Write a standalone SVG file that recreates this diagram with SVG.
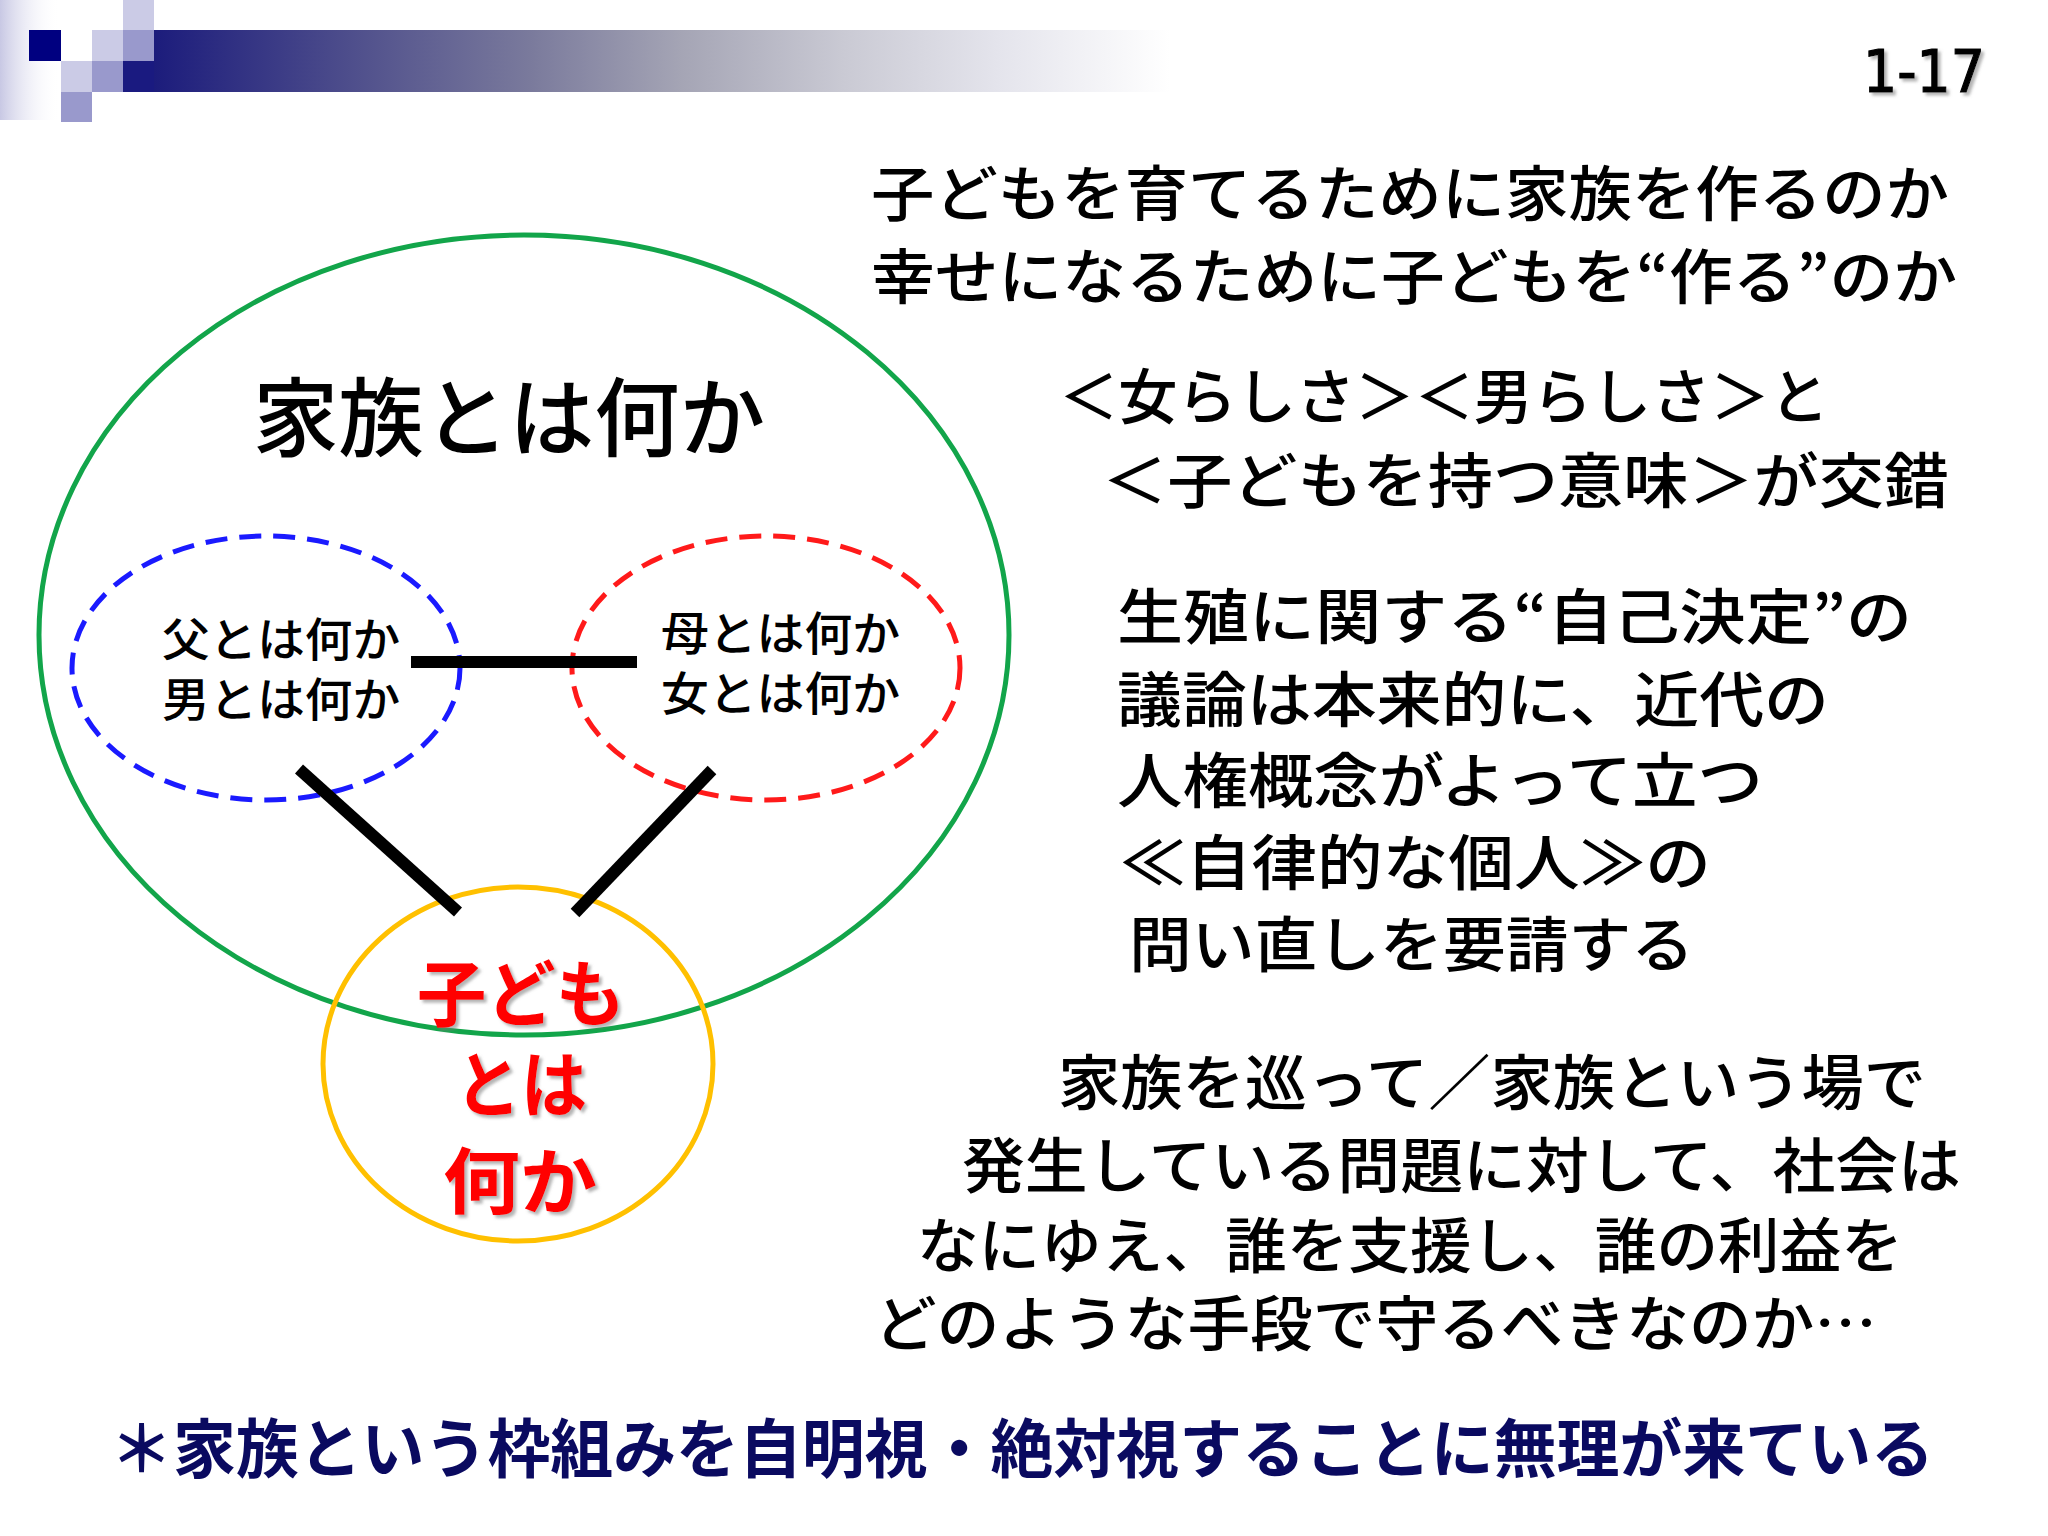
<svg xmlns="http://www.w3.org/2000/svg" width="2048" height="1536" viewBox="0 0 2048 1536">
<defs>
<linearGradient id="bar" gradientUnits="userSpaceOnUse" x1="154" y1="0" x2="1170" y2="0">
<stop offset="0" stop-color="#1c1c7c"/>
<stop offset="0.22" stop-color="#55558e"/>
<stop offset="0.37" stop-color="#7a7a9c"/>
<stop offset="0.52" stop-color="#a5a5b5"/>
<stop offset="0.68" stop-color="#cacad4"/>
<stop offset="0.83" stop-color="#e4e4ec"/>
<stop offset="1" stop-color="#ffffff"/>
</linearGradient>
<linearGradient id="strip" x1="0" y1="0" x2="1" y2="0">
<stop offset="0" stop-color="#c8c8e4"/>
<stop offset="1" stop-color="#ffffff" stop-opacity="0"/>
</linearGradient>
<filter id="shadow" x="-10%" y="-10%" width="130%" height="130%">
<feDropShadow dx="3" dy="3" stdDeviation="1.5" flood-color="#777" flood-opacity="0.55"/>
</filter>
<style>
.jp{font-family:"Noto Sans CJK JP","Noto Sans CJK SC",sans-serif;fill:#000}
.rt{font-size:60px;font-weight:500}
.sub{font-size:46px;font-weight:500}
.red{font-size:72px;font-weight:700;fill:#ff0000}
.navy{font-size:64px;font-weight:700;fill:#0a0a60}
.dash{fill:none;stroke-width:5;stroke-dasharray:22 12}
.conn{stroke:#000;stroke-width:12;stroke-linecap:butt}
</style>
</defs>
<rect width="2048" height="1536" fill="#fff"/>
<g id="header">
<rect x="0" y="0" width="60" height="120" fill="url(#strip)"/>
<rect x="154" y="30" width="1016" height="62" fill="url(#bar)"/>
<rect x="29" y="30" width="32" height="31" fill="#000080"/>
<rect x="92" y="30" width="31" height="31" fill="#cbcbe6"/>
<rect x="123" y="0" width="31" height="30" fill="#cbcbe6"/>
<rect x="123" y="30" width="31" height="31" fill="#9999cc"/>
<rect x="61" y="61" width="31" height="31" fill="#cbcbe6"/>
<rect x="92" y="61" width="31" height="31" fill="#9999cc"/>
<rect x="123" y="61" width="31" height="31" fill="#1a1a80"/>
<rect x="61" y="92" width="31" height="30" fill="#9999cc"/>
<text x="1863" y="92" font-family="DejaVu Sans,sans-serif" font-size="58" textLength="122" lengthAdjust="spacingAndGlyphs" fill="#000" stroke="#000" stroke-width="1.2" filter="url(#shadow)">1-17</text>
</g>
<g id="node-family">
<ellipse cx="524" cy="635" rx="485" ry="400" fill="none" stroke="#12a54a" stroke-width="5"/>
<text class="jp" x="253" y="450" font-size="86" font-weight="500" textLength="512" lengthAdjust="spacingAndGlyphs">家族とは何か</text>
</g>
<g id="node-father">
<ellipse class="dash" cx="266" cy="668" rx="194" ry="132" stroke="#1a1aff"/>
<text class="jp sub" x="162" y="656" textLength="238" lengthAdjust="spacingAndGlyphs">父とは何か</text>
<text class="jp sub" x="162" y="716" textLength="238" lengthAdjust="spacingAndGlyphs">男とは何か</text>
</g>
<g id="node-mother">
<ellipse class="dash" cx="766" cy="668" rx="194" ry="132" stroke="#ff1a1a"/>
<text class="jp sub" x="661" y="650" textLength="239" lengthAdjust="spacingAndGlyphs">母とは何か</text>
<text class="jp sub" x="661" y="710" textLength="239" lengthAdjust="spacingAndGlyphs">女とは何か</text>
</g>
<g id="node-child">
<ellipse cx="518" cy="1064" rx="195" ry="177" fill="none" stroke="#ffc000" stroke-width="5"/>
<g class="jp red" filter="url(#shadow)">
<text x="417" y="1020" textLength="208" lengthAdjust="spacingAndGlyphs">子ども</text>
<text x="455" y="1111" textLength="132" lengthAdjust="spacingAndGlyphs">とは</text>
<text x="443" y="1208" textLength="154" lengthAdjust="spacingAndGlyphs">何か</text>
</g>
</g>
<g id="connectors">
<line class="conn" x1="411" y1="662" x2="637" y2="662"/>
<line class="conn" x1="299" y1="769" x2="458" y2="912"/>
<line class="conn" x1="712" y1="770" x2="575" y2="913"/>
</g>
<g id="text-right" class="jp rt">
<text x="871" y="216" textLength="1078" lengthAdjust="spacingAndGlyphs">子どもを育てるために家族を作るのか</text>
<text x="871" y="299" textLength="1086" lengthAdjust="spacingAndGlyphs">幸せになるために子どもを“作る”のか</text>
<text x="1059" y="419" textLength="770" lengthAdjust="spacingAndGlyphs">＜女らしさ＞＜男らしさ＞と</text>
<text x="1102" y="503" textLength="847" lengthAdjust="spacingAndGlyphs">＜子どもを持つ意味＞が交錯</text>
<text x="1117" y="639" textLength="795" lengthAdjust="spacingAndGlyphs">生殖に関する“自己決定”の</text>
<text x="1117" y="722" textLength="712" lengthAdjust="spacingAndGlyphs">議論は本来的に、近代の</text>
<text x="1117" y="803" textLength="646" lengthAdjust="spacingAndGlyphs">人権概念がよって立つ</text>
<text x="1120" y="885" textLength="591" lengthAdjust="spacingAndGlyphs">≪自律的な個人≫の</text>
<text x="1129" y="967" textLength="565" lengthAdjust="spacingAndGlyphs">問い直しを要請する</text>
<text x="1058" y="1105" textLength="868" lengthAdjust="spacingAndGlyphs">家族を巡って／家族という場で</text>
<text x="962" y="1188" textLength="999" lengthAdjust="spacingAndGlyphs">発生している問題に対して、社会は</text>
<text x="917" y="1268" textLength="986" lengthAdjust="spacingAndGlyphs">なにゆえ、誰を支援し、誰の利益を</text>
<text x="874" y="1346" textLength="1003" lengthAdjust="spacingAndGlyphs">どのような手段で守るべきなのか…</text>
</g>
<g id="text-bottom">
<text class="jp navy" x="110" y="1472" textLength="1824" lengthAdjust="spacingAndGlyphs">＊家族という枠組みを自明視・絶対視することに無理が来ている</text>
</g>
</svg>
